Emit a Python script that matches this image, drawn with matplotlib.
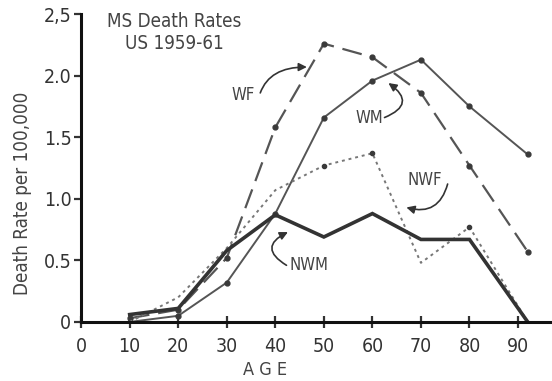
import matplotlib

matplotlib.use("Agg")
import matplotlib.pyplot as plt

# Ages (x) and death rates per 100,000 for each group
ages = [10, 20, 30, 40, 50, 60, 70, 80, 92]
wf = [0.03, 0.10, 0.52, 1.58, 2.26, 2.15, 1.86, 1.27, 0.57]
wm = [0.00, 0.05, 0.32, 0.88, 1.66, 1.96, 2.13, 1.75, 1.36]
nwf = [0.00, 0.20, 0.60, 1.07, 1.27, 1.37, 0.48, 0.77, 0.00]
nwm = [0.06, 0.11, 0.58, 0.87, 0.69, 0.88, 0.67, 0.67, 0.00]

x_ticks = [0, 10, 20, 30, 40, 50, 60, 70, 80, 90]
y_ticks = [0, 0.5, 1.0, 1.5, 2.0, 2.5]
y_tick_labels = ["0", "0.5", "1.0", "1.5", "2.0", "2,5"]

plt.rcParams["font.family"] = ["DejaVu Sans"]
plt.rcParams["font.stretch"] = "condensed"

fig = plt.figure(figsize=(5.52, 3.81), dpi=100)
ax = fig.add_axes([0.147, 0.155, 0.853, 0.808])

ink = "#3a3a3a"
txt = "#444444"
ax.plot(ages, wf, color="#555555", lw=1.6, dashes=(9, 4), marker="o", ms=3.5,
        mfc=ink, mec=ink)
ax.plot(ages, wm, color="#555555", lw=1.4, marker="o", ms=3.5, mfc=ink, mec=ink)
ax.plot(ages, nwf, color="#777777", lw=1.4, ls=(0, (1.5, 2)), marker="o", ms=3,
        mfc=ink, mec=ink, markevery=[4, 5, 7])
ax.plot(ages, nwm, color="#333333", lw=2.6, solid_joinstyle="miter")

ax.set_xlim(0, 97)
ax.set_ylim(0, 2.5)
ax.set_xticks(x_ticks)
ax.set_yticks(y_ticks)
ax.set_yticklabels(y_tick_labels)
for side in ("top", "right"):
    ax.spines[side].set_visible(False)
for side in ("left", "bottom"):
    ax.spines[side].set_linewidth(2.2)
    ax.spines[side].set_color("#111111")
ax.tick_params(axis="x", direction="inout", length=9, width=1.6, labelsize=14,
               colors="#333333", pad=6)
ax.tick_params(axis="y", direction="out", length=5, width=1.6, labelsize=14,
               colors="#333333", pad=2)

fig.text(23 / 552, 1 - 193 / 381, "Death Rate per 100,000", rotation=90,
         ha="center", va="center", fontsize=13.5, color=txt)
fig.text(265 / 552, 1 - 370 / 381, "A G E", ha="center", va="center",
         fontsize=13, color=txt)

ax.text(19.2, 2.35, "MS Death Rates\nUS 1959-61", ha="center", va="center",
        fontsize=13.5, color=txt, linespacing=1.15)

ax.text(33.3, 1.84, "WF", ha="center", va="center", fontsize=12, color=txt)
ax.text(59.3, 1.66, "WM", ha="center", va="center", fontsize=12, color=txt)
ax.text(70.8, 1.15, "NWF", ha="center", va="center", fontsize=12, color=txt)
ax.text(47.0, 0.46, "NWM", ha="center", va="center", fontsize=12, color=txt)

arrow = dict(arrowstyle="-|>", color="#333333", lw=1.2, mutation_scale=12,
             shrinkA=0, shrinkB=0)
ax.annotate("", xy=(46.5, 2.07), xytext=(36.9, 1.86),
            arrowprops=dict(arrow, connectionstyle="angle3,angleA=70,angleB=0"))
ax.annotate("", xy=(63.3, 1.94), xytext=(62.5, 1.66),
            arrowprops=dict(arrow, connectionstyle="arc3,rad=0.9"))
ax.annotate("", xy=(67.0, 0.93), xytext=(75.5, 1.12),
            arrowprops=dict(arrow, connectionstyle="arc3,rad=-0.5"))
ax.annotate("", xy=(42.6, 0.73), xytext=(42.3, 0.46),
            arrowprops=dict(arrow, connectionstyle="arc3,rad=-0.9"))

fig.savefig("out.png", dpi=100)
